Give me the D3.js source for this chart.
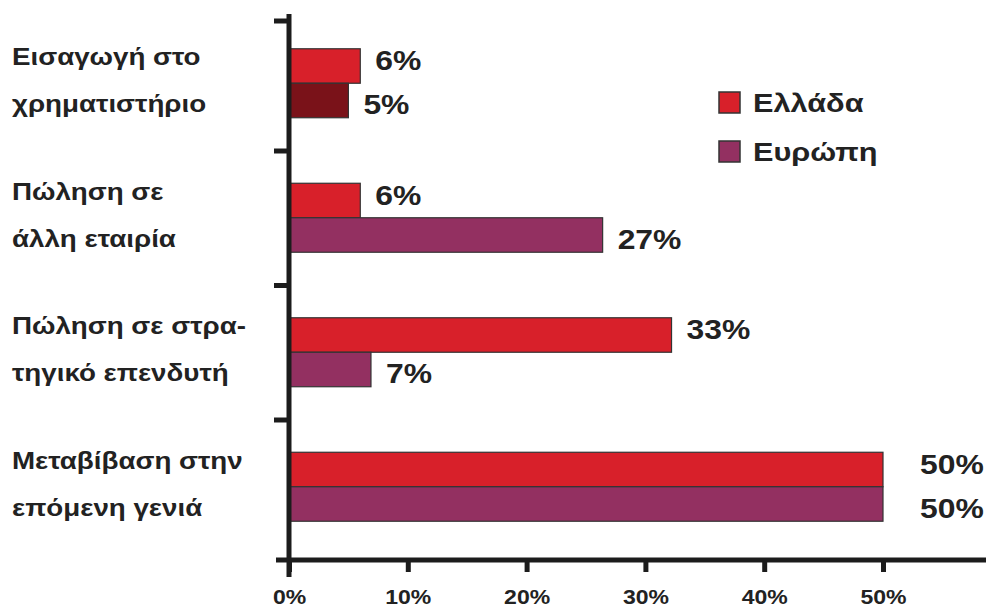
<!DOCTYPE html>
<html>
<head>
<meta charset="utf-8">
<script src="https://cdn.jsdelivr.net/npm/d3@7"></script>
<style>
  body { margin: 0; background: #fff; }
  text { font-family: "Liberation Sans", Arial, Helvetica, sans-serif; font-weight: bold; fill: #222; }
</style>
</head>
<body>
<svg id="chart" width="991" height="610"></svg>
<script>
  // categories, two text lines each
  var categories = ['eisagogi', 'polisi-allh', 'polisi-strat', 'metavivasi'];
  var categoryLines = [
    ['Εισαγωγή στο', 'χρηματιστήριο'],
    ['Πώληση σε', 'άλλη εταιρία'],
    ['Πώληση σε στρα-', 'τηγικό επενδυτή'],
    ['Μεταβίβαση στην', 'επόμενη γενιά']
  ];
  var series = ['Ελλάδα', 'Ευρώπη'];
  // bar lengths as drawn in the picture (%)
  var greece = [6, 6, 32.2, 50];
  var europe = [5, 26.4, 6.9, 50];
  // printed value labels
  var greeceLabels = ['6%', '6%', '33%', '50%'];
  var europeLabels = ['5%', '27%', '7%', '50%'];
  var xTicks = [0, 10, 20, 30, 40, 50];

  var colors = { 'Ελλάδα': '#d8202a', 'Ευρώπη': '#933061' };
  var firstEuropeColor = '#7a1219';
  var stretch = 'scale(1.18,1)';

  var svg = d3.select('#chart');

  var x = d3.scaleLinear().domain([0, 50]).range([289, 883]);
  var y = d3.scaleBand().domain(categories).range([16, 554]);
  var yEdge = d3.scaleLinear().domain([0, categories.length]).range([16, 554]);
  var ys = d3.scaleBand().domain(series).range([0, y.bandwidth()]).paddingOuter(0.95);

  var rows = categories.map(function (c, i) {
    return {
      cat: c, i: i, lines: categoryLines[i],
      vals: [
        { s: series[0], v: greece[i], label: greeceLabels[i] },
        { s: series[1], v: europe[i], label: europeLabels[i] }
      ]
    };
  });

  // bars
  var g = svg.selectAll('.grp')
      .data(rows)
    .enter().append('g')
      .attr('class', 'grp')
      .attr('transform', function (d) { return 'translate(0,' + y(d.cat) + ')'; });

  g.selectAll('rect')
      .data(function (d) { return d.vals.map(function (v) { v.i = d.i; return v; }); })
    .enter().append('rect')
      .attr('x', x(0))
      .attr('y', function (d) { return ys(d.s); })
      .attr('width', function (d) { return x(d.v) - x(0); })
      .attr('height', ys.bandwidth())
      .attr('fill', function (d) {
        return (d.i === 0 && d.s === series[1]) ? firstEuropeColor : colors[d.s];
      })
      .attr('stroke', '#333')
      .attr('stroke-width', 1.2);

  // value labels (the full-length bars get theirs pushed further out)
  g.selectAll('.val')
      .data(function (d) { return d.vals; })
    .enter().append('text')
      .attr('class', 'val')
      .attr('transform', function (d) {
        var gap = d.v >= x.domain()[1] ? 37 : 15;
        var shift = d.s === series[0] ? 4 : 14;
        return 'translate(' + (x(d.v) + gap) + ',' + (ys(d.s) + ys.bandwidth() / 2 + shift) + ') ' + stretch;
      })
      .style('font-size', '27px')
      .text(function (d) { return d.label; });

  // category labels
  g.selectAll('.cat')
      .data(function (d) { return d.lines; })
    .enter().append('text')
      .attr('class', 'cat')
      .attr('transform', function (d, j) {
        return 'translate(12,' + (y.bandwidth() / 2 + (j === 0 ? -18 : 29)) + ') ' + stretch;
      })
      .style('font-size', '23.5px')
      .text(function (d) { return d; });

  // y axis with ticks at group edges
  var yAxis = svg.append('g')
      .attr('transform', 'translate(' + x(0) + ',0)')
      .call(d3.axisLeft(yEdge).tickValues([0, 1, 2, 3]).tickSize(15).tickFormat(''));
  yAxis.select('.domain').remove();
  yAxis.selectAll('line').attr('stroke', '#1c1c1c').attr('stroke-width', 5);
  yAxis.selectAll('.tick').filter(function (d) { return d === 0; })
      .attr('transform', 'translate(0,21)');
  svg.append('line')
      .attr('x1', x(0)).attr('x2', x(0))
      .attr('y1', 14).attr('y2', 577)
      .attr('stroke', '#1c1c1c').attr('stroke-width', 5);

  // x axis
  var xAxis = svg.append('g')
      .attr('transform', 'translate(0,560)')
      .call(d3.axisBottom(x).tickValues(xTicks).tickSize(12).tickFormat(function (d) { return d + '%'; }));
  xAxis.select('.domain').remove();
  xAxis.selectAll('line').attr('stroke', '#1c1c1c').attr('stroke-width', 5);
  xAxis.selectAll('text')
      .attr('y', 0).attr('dy', 0)
      .attr('transform', 'translate(0,44) ' + stretch)
      .style('font-size', '19.5px')
      .style('fill', '#222');
  svg.append('line')
      .attr('x1', x(0) - 13).attr('x2', 986)
      .attr('y1', 560).attr('y2', 560)
      .attr('stroke', '#1c1c1c').attr('stroke-width', 5);

  // legend
  var legend = svg.selectAll('.legend')
      .data(series)
    .enter().append('g')
      .attr('class', 'legend')
      .attr('transform', function (d, i) { return 'translate(719,' + (92 + i * 49) + ')'; });
  legend.append('rect')
      .attr('width', 21).attr('height', 21)
      .attr('fill', function (d) { return colors[d]; })
      .attr('stroke', '#333').attr('stroke-width', 1.5);
  legend.append('text')
      .attr('transform', 'translate(34,20) ' + stretch)
      .style('font-size', '26px')
      .text(function (d) { return d; });
</script>
</body>
</html>
